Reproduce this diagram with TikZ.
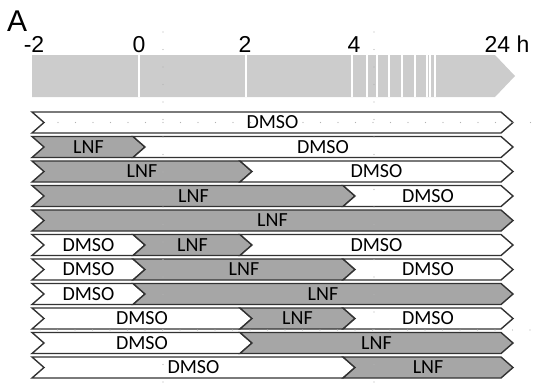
\documentclass[tikz,border=0pt]{standalone}
\usepackage{fontspec}
\setsansfont{Liberation Sans}
\newfontfamily\calib{Carlito}
\usepackage{xcolor}
\usepackage{tikz}
\usetikzlibrary{calc}

\begin{document}
\begin{tikzpicture}[
    x=1pt, y=-1pt,
    timebar/.style={fill=black!20, draw=none},
    gapline/.style={white, line width=1.3pt},
    tick/.style={font=\sffamily\fontsize{23}{23}\selectfont, anchor=base, inner sep=0pt},
    dmso/.style={fill=white, draw=black!80, line width=1.4pt, line join=miter},
    lnf/.style={fill=black!35, draw=black!80, line width=1.4pt, line join=miter},
    seglabel/.style={font=\calib\fontsize{20}{20}\selectfont, text=black, inner sep=0pt},
    grid dots/.style={draw=black!30, line width=1.2pt, line cap=round, dash pattern=on 0pt off 17.5pt}
]
\useasboundingbox (0,0) rectangle (533,383);

% panel letter and time axis
\node[font=\sffamily\fontsize{30}{30}\selectfont, anchor=base west, inner sep=0pt] (panel) at (7,31) {A};
\node[tick] (tm2) at (34,52) {-2};
\node[tick] (t0) at (139,52) {0};
\node[tick] (t2) at (245,52) {2};
\node[tick] (t4) at (354,52) {4};
\node[tick] (t24) at (507,52) {24 h};

\fill[timebar] (32,55) -- (495,55) -- (515,76) -- (495,97) -- (32,97) -- cycle;
\foreach \g in {139,246,352,367,377,389,402,415,427,430,435}
    \draw[gapline] (\g,55) -- (\g,97);

% treatment rows: row/start/end/style/label
\foreach \r/\a/\b/\k/\txt in {
    1/32/501/dmso/DMSO,
    2/32/133/lnf/LNF, 2/133/501/dmso/DMSO,
    3/32/240/lnf/LNF, 3/240/501/dmso/DMSO,
    4/32/343/lnf/LNF, 4/343/501/dmso/DMSO,
    5/32/501/lnf/LNF,
    6/32/133/dmso/DMSO, 6/133/240/lnf/LNF, 6/240/501/dmso/DMSO,
    7/32/133/dmso/DMSO, 7/133/343/lnf/LNF, 7/343/501/dmso/DMSO,
    8/32/133/dmso/DMSO, 8/133/501/lnf/LNF,
    9/32/240/dmso/DMSO, 9/240/343/lnf/LNF, 9/343/501/dmso/DMSO,
    10/32/240/dmso/DMSO, 10/240/501/lnf/LNF,
    11/32/343/dmso/DMSO, 11/343/501/lnf/LNF}
{
    \pgfmathsetmacro\yc{122.5+(\r-1)*24.5}
    \draw[\k] (\a,\yc-10.5) -- (\b,\yc-10.5) -- (\b+12,\yc) -- (\b,\yc+10.5)
        -- (\a,\yc+10.5) -- (\a+12,\yc) -- cycle;
    \node[seglabel] (lab-\r-\a) at ({(\a+\b+12)/2},\yc) {\txt};
}

% faint guide dots
\draw[grid dots] (163,32) -- (163,383);
\draw[grid dots] (374,32) -- (374,383);
\draw[grid dots] (58,122.5) -- (533,122.5);
\draw[grid dots] (40,330) -- (533,330);
\end{tikzpicture}
\end{document}
